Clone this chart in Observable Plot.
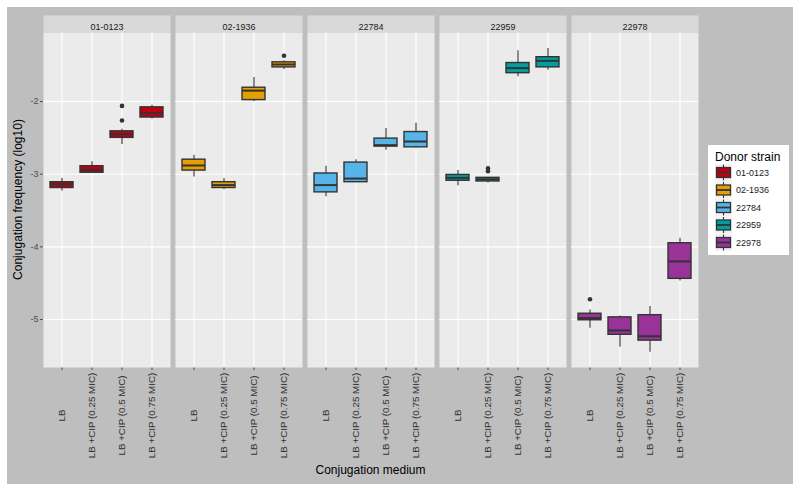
<!DOCTYPE html>
<html>
<head>
<meta charset="utf-8">
<script src="https://cdn.jsdelivr.net/npm/d3@7"></script>
<script src="https://cdn.jsdelivr.net/npm/@observablehq/plot@0.6"></script>
<style>
  body { margin: 0; background: #ffffff; }
  #chart { position: absolute; left: 7px; top: 7px; }
</style>
</head>
<body>
<div id="chart"></div>
<script>
// ---- data ----
const strains = ["01-0123", "02-1936", "22784", "22959", "22978"];
const media = ["LB", "LB +CIP (0.25 MIC)", "LB +CIP (0.5 MIC)", "LB +CIP (0.75 MIC)"];
const colors = ["#C00010", "#E69F00", "#56B4E9", "#009E9E", "#993399"];
const yTicks = [-2, -3, -4, -5];

// rows = strains, columns = media
const whiskerLow = [
  [-3.23, -2.99, -2.59, -2.24],
  [-3.04, -3.21, -2.00, -1.56],
  [-3.31, -3.11, -2.67, -2.64],
  [-3.16, -3.12, -1.66, -1.57],
  [-5.12, -5.38, -5.45, -4.47]
];
const q1 = [
  [-3.19, -2.98, -2.50, -2.22],
  [-2.95, -3.19, -1.98, -1.53],
  [-3.25, -3.11, -2.62, -2.63],
  [-3.09, -3.10, -1.61, -1.53],
  [-5.01, -5.21, -5.29, -4.44]
];
const median = [
  [-3.14, -2.94, -2.45, -2.16],
  [-2.88, -3.15, -1.85, -1.49],
  [-3.15, -3.06, -2.60, -2.55],
  [-3.05, -3.07, -1.54, -1.44],
  [-4.98, -5.15, -5.23, -4.20]
];
const q3 = [
  [-3.11, -2.89, -2.41, -2.08],
  [-2.80, -3.11, -1.81, -1.46],
  [-2.99, -2.84, -2.51, -2.42],
  [-3.01, -3.05, -1.47, -1.39],
  [-4.92, -4.97, -4.94, -3.95]
];
const whiskerHigh = [
  [-3.06, -2.83, -2.38, -2.05],
  [-2.74, -3.06, -1.67, -1.44],
  [-2.89, -2.80, -2.37, -2.30],
  [-2.95, -3.05, -1.30, -1.27],
  [-4.87, -4.95, -4.82, -3.88]
];
const outliers = [
  ["01-0123", "LB +CIP (0.5 MIC)", -2.06],
  ["01-0123", "LB +CIP (0.5 MIC)", -2.26],
  ["02-1936", "LB +CIP (0.75 MIC)", -1.37],
  ["22959", "LB +CIP (0.25 MIC)", -2.92],
  ["22959", "LB +CIP (0.25 MIC)", -2.96],
  ["22978", "LB", -4.72]
];

// ---- build tables ----
const rows = [];
strains.forEach((s, i) => media.forEach((m, j) => rows.push({
  strain: s, medium: m,
  lo: whiskerLow[i][j], q1: q1[i][j], median: median[i][j], q3: q3[i][j], hi: whiskerHigh[i][j]
})));
const outlierRows = outliers.map(([strain, medium, value]) => ({strain, medium, value}));

// ---- layout ----
const W = 786, H = 477, mL = 36, mT = 25, mR = 95, mB = 117;
const panelH = H - mT - mB;
const font = "'Liberation Sans', Arial, Helvetica, sans-serif";

const chart = Plot.plot({
  width: W, height: H,
  marginLeft: mL, marginRight: mR, marginTop: mT, marginBottom: mB,
  style: {background: "#BEBEBE", fontFamily: font, fontSize: "9px", color: "#4D4D4D", overflow: "visible"},
  fx: {domain: strains, paddingInner: 5 / 132, paddingOuter: 0, axis: null, label: null},
  x: {domain: media, type: "band", paddingInner: 0.25, paddingOuter: 0.225,
      tickSize: 3, tickFormat: () => "", label: null},
  y: {domain: [-5.66, -1.05], ticks: yTicks, tickFormat: d => String(d),
      tickSize: 3, tickPadding: 2, label: null},
  color: {domain: strains, range: colors},
  marks: [
    Plot.frame({fill: "#EBEBEB", stroke: "none"}),
    Plot.frame({fill: "#D9D9D9", stroke: "none", insetTop: -17, insetBottom: panelH}),
    Plot.text(strains, {fx: d => d, text: d => d, frameAnchor: "top", dy: -8.5,
      fill: "#1A1A1A", fontSize: 9}),
    Plot.text(media, {x: d => d, text: d => d, frameAnchor: "bottom", rotate: -90,
      textAnchor: "middle", dx: 2.5, dy: 48, fill: "#333333", fontSize: 9.8}),
    Plot.ruleY(yTicks, {y: d => d, stroke: "white", strokeWidth: 1.1}),
    Plot.ruleX(media, {x: d => d, stroke: "white", strokeWidth: 1.1}),
    Plot.ruleX(rows, {fx: "strain", x: "medium", y1: "lo", y2: "hi", stroke: "#333333", strokeWidth: 1.1}),
    Plot.barY(rows, {fx: "strain", x: "medium", y1: "q1", y2: "q3", fill: "strain",
      stroke: "#333333", strokeWidth: 1.4}),
    Plot.tickY(rows, {fx: "strain", x: "medium", y: "median", stroke: "#333333", strokeWidth: 2}),
    Plot.dot(outlierRows, {fx: "strain", x: "medium", y: "value", r: 2.3, fill: "#333333", stroke: "none"})
  ]
});
document.getElementById("chart").appendChild(chart);

// ---- titles and legend ----
const svg = d3.select(chart);
svg.append("text")
  .attr("transform", `translate(11, ${mT + panelH / 2}) rotate(-90)`)
  .attr("text-anchor", "middle").attr("dy", "0.35em")
  .style("font-family", font).style("font-size", "12px").attr("fill", "#000")
  .text("Conjugation frequency (log10)");
svg.append("text")
  .attr("x", mL + (W - mL - mR) / 2).attr("y", 463)
  .attr("text-anchor", "middle").attr("dy", "0.35em")
  .style("font-family", font).style("font-size", "12px").attr("fill", "#000")
  .text("Conjugation medium");

const lg = svg.append("g").attr("transform", "translate(701, 138)").attr("text-anchor", "start");
lg.append("rect").attr("width", 81).attr("height", 110).attr("fill", "#FFFFFF");
lg.append("text").attr("x", 7).attr("y", 16).attr("text-anchor", "start")
  .style("font-family", font).style("font-size", "12px").attr("fill", "#000")
  .text("Donor strain");
strains.forEach((s, i) => {
  const cy = 27.5 + 17.5 * i;
  const k = lg.append("g").attr("transform", `translate(7, ${cy})`);
  k.append("rect").attr("x", 0).attr("y", -8.5).attr("width", 17).attr("height", 17).attr("fill", "#F2F2F2");
  k.append("line").attr("x1", 8.5).attr("x2", 8.5).attr("y1", -8).attr("y2", 8).attr("stroke", "#333").attr("stroke-width", 1.1);
  k.append("rect").attr("x", 1.5).attr("y", -5).attr("width", 14).attr("height", 10)
    .attr("fill", colors[i]).attr("stroke", "#333").attr("stroke-width", 1.3);
  k.append("line").attr("x1", 1.5).attr("x2", 15.5).attr("y1", 0).attr("y2", 0).attr("stroke", "#333").attr("stroke-width", 1.8);
  k.append("text").attr("x", 21).attr("y", 0).attr("dy", "0.35em").attr("text-anchor", "start")
    .style("font-family", font).style("font-size", "9px").attr("fill", "#1A1A1A").text(s);
});
</script>
</body>
</html>
